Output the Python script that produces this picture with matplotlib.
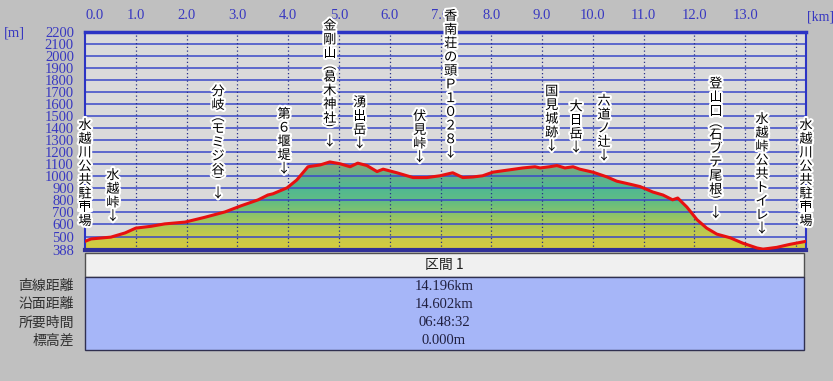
import numpy as np
import matplotlib.pyplot as plt
import matplotlib.patheffects as pe
from matplotlib.colors import LinearSegmentedColormap
from matplotlib.patches import Polygon, Rectangle

plt.rcParams['font.family'] = ['Noto Sans CJK JP', 'DejaVu Sans']

# elevation profile (distance km, elevation m)
dist_km = [0.0, 0.12, 0.51, 0.79, 1.0, 1.30, 1.57, 1.97, 2.36, 2.76, 3.07, 3.41,
           3.60, 3.70, 3.98, 4.17, 4.29, 4.39, 4.63, 4.82, 5.02, 5.22, 5.37, 5.55,
           5.75, 5.87, 6.14, 6.46, 6.73, 6.99, 7.24, 7.44, 7.64, 7.83, 8.03, 8.37,
           8.62, 8.86, 8.96, 9.15, 9.29, 9.45, 9.61, 9.74, 10.0, 10.28, 10.47, 10.73,
           10.93, 11.18, 11.38, 11.57, 11.67, 11.85, 12.05, 12.24, 12.44, 12.70, 12.95,
           13.23, 13.35, 13.62, 13.88, 14.13, 14.196]
elev_m = [460, 480, 495, 530, 570, 585, 605, 620, 660, 705, 755, 805,
          845, 855, 905, 970, 1030, 1080, 1095, 1120, 1105, 1080, 1110, 1090,
          1040, 1060, 1030, 990, 990, 1005, 1030, 990, 995, 1005, 1035, 1055,
          1070, 1080, 1070, 1080, 1090, 1070, 1080, 1060, 1035, 995, 960, 935,
          915, 870, 845, 805, 820, 745, 640, 570, 520, 490, 445,
          405, 395, 410, 435, 455, 460]

# waypoints (vertical labels)
spot_names = ["水越川公共駐車場", "水越峠↓", "分岐︵モミジ谷︶↓", "第６堰堤↓",
              "金剛山︵葛木神社︶↓", "湧出岳↓", "伏見峠↓", "香南荘の頭Ｐ１０２８↓",
              "国見城跡↓", "大日岳↓", "六道ノ辻↓", "登山口︵石ブテ尾根︶↓",
              "水越峠公共トイレ↓", "水越川公共駐車場"]
spot_km = [0.0, 0.55, 2.62, 3.92, 4.82, 5.41, 6.59, 7.20, 9.19, 9.67, 10.22,
           12.42, 13.33, 14.196]

x_ticks = [0, 1, 2, 3, 4, 5, 6, 7, 8, 9, 10, 11, 12, 13]
y_ticks = [388, 500, 600, 700, 800, 900, 1000, 1100, 1200, 1300, 1400, 1500,
           1600, 1700, 1800, 1900, 2000, 2100, 2200]

section_name = "区間 1"
row_names = ["直線距離", "沿面距離", "所要時間", "標高差"]
row_values = ["14.196km", "14.602km", "06:48:32", "0.000m"]

W, H = 833, 381
fig = plt.figure(figsize=(W / 100, H / 100), dpi=100, facecolor='#c0c0c0')


def fx(px):
    return px / W


def fy(py):
    return 1 - py / H


blue = '#3838c0'
num_font = 'Liberation Serif'

ax = fig.add_axes([fx(85), fy(250), fx(806) - fx(85), fy(32) - fy(250)])
ax.set_facecolor('#dadada')
x_end = dist_km[-1]
ax.set_xlim(0, x_end)
ax.set_ylim(388, 2200)

# gradient fill under the profile
cmap = LinearSegmentedColormap.from_list('alt', [
    (0.0, '#d8cc3e'), (0.15, '#c8ca4a'), (0.28, '#aac65a'), (0.41, '#84c26c'),
    (0.54, '#60bc84'), (0.67, '#50b892'), (0.80, '#64b08a'), (0.93, '#86a87a'),
    (1.0, '#92a474')])
grad = np.linspace(0, 1, 256).reshape(-1, 1)
im = ax.imshow(grad, extent=[0, x_end, 388, 1150], origin='lower', aspect='auto',
               cmap=cmap, zorder=1, interpolation='bilinear')
verts = list(zip(dist_km, elev_m)) + [(x_end, 388), (0, 388)]
poly = Polygon(verts, closed=True, facecolor='none', edgecolor='none')
ax.add_patch(poly)
im.set_clip_path(poly)

# grid
ax.hlines(y_ticks[1:-1], 0, x_end, color='#3a48c8', lw=1.1, zorder=2)
ax.vlines(np.arange(1, 15), 388, 2200, color='#28308a', lw=0.9,
          linestyles=(0, (1, 2)), zorder=2)

ax.plot(dist_km, elev_m, color='#e81010', lw=2.2, zorder=4, solid_joinstyle='round')

for s in ['top', 'left', 'right']:
    ax.spines[s].set_color('#2c34c4')
ax.spines['top'].set_linewidth(2.5)
ax.spines['left'].set_linewidth(1.5)
ax.spines['right'].set_linewidth(1.5)
ax.spines['bottom'].set_color('#303098')
ax.spines['bottom'].set_linewidth(3)

ax.set_yticks(y_ticks)
ax.set_yticklabels([str(v) for v in y_ticks], fontsize=10.5, color=blue,
                   family=num_font)
ax.tick_params(axis='y', length=0, pad=8)
ax.xaxis.tick_top()
ax.set_xticks(x_ticks)
ax.set_xticklabels([f"{v:.1f}" for v in x_ticks], fontsize=10.5, color=blue,
                   family=num_font)
ax.tick_params(axis='x', length=0, pad=7)
ax.get_xticklabels()[0].set_ha('left')

fig.text(fx(4), fy(33), "[m]", fontsize=10.5, color=blue, family=num_font,
         va='center', ha='left')
fig.text(fx(807), fy(17), "[km]", fontsize=10, color=blue, family=num_font,
         va='center', ha='left')

# vertical waypoint labels, stacked bottom-up above the profile
halo = [pe.withStroke(linewidth=3, foreground='white')]
step = 13.7
half = 10
gap = 13
spot_elev = np.interp(spot_km, dist_km, elev_m)
for name, km, el in zip(spot_names, spot_km, spot_elev):
    y = gap
    for ch in reversed(name):
        h = half if ch in '︵︶' else step
        yc = y + h / 2
        ax.annotate(ch, xy=(km, el), xytext=(0, yc * 0.72), textcoords='offset points',
                    ha='center', va='center', fontsize=9.5, color='black',
                    path_effects=halo, zorder=6, annotation_clip=False)
        y += h

# summary table
hdr = Rectangle((fx(85), fy(277)), fx(804) - fx(85), fy(253) - fy(277),
                transform=fig.transFigure, facecolor='#f0f0f0', edgecolor='#505050',
                lw=1)
body = Rectangle((fx(85), fy(350)), fx(804) - fx(85), fy(277) - fy(350),
                 transform=fig.transFigure, facecolor='#a6b6f8', edgecolor='#303050',
                 lw=1)
fig.patches.extend([hdr, body])
cx = fx(444)
fig.text(cx, fy(265), section_name, ha='center', va='center', fontsize=10,
         color='#202020')
row_h = (350 - 277) / len(row_names)
for i, (lab, val) in enumerate(zip(row_names, row_values)):
    yc = fy(277 + row_h * (i + 0.5))
    fig.text(fx(74), yc, lab, ha='right', va='center', fontsize=10, color='#303030')
    fig.text(cx, yc, val, ha='center', va='center', fontsize=10.5, color='#202040',
             family=num_font)

fig.savefig('out.png', dpi=100, facecolor=fig.get_facecolor())
